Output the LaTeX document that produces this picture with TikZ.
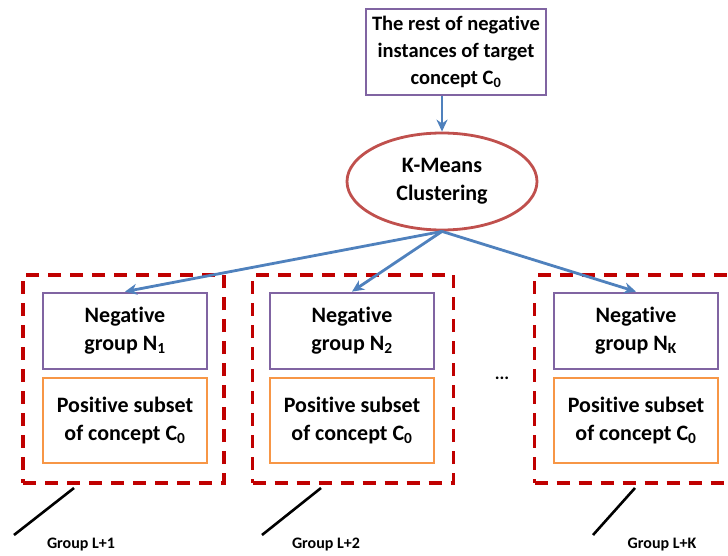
\documentclass[tikz,border=0pt]{standalone}
\usepackage{fontspec}
\setmainfont{Carlito}[Ligatures=NoCommon]
\usetikzlibrary{shapes.geometric,arrows.meta}

\definecolor{boxpurple}{HTML}{8064A2}
\definecolor{boxorange}{HTML}{F79646}
\definecolor{ellred}{HTML}{C0504D}
\definecolor{flowblue}{HTML}{4F81BD}
\definecolor{groupred}{HTML}{C00000}

\tikzset{
  txt/.style={font=\bfseries\fontsize{22}{28}\selectfont, align=center, text=black},
  toptxt/.style={font=\bfseries\fontsize{20.5}{27}\selectfont, align=center, text=black},
  negbox/.style={draw=boxpurple, line width=2.8pt, fill=white, minimum width=164pt, minimum height=76pt, inner sep=0pt},
  posbox/.style={draw=boxorange, line width=2.8pt, fill=white, minimum width=164pt, minimum height=85pt, inner sep=0pt},
  groupbox/.style={draw=groupred, line width=3.2pt, dash pattern=on 13pt off 9pt, minimum width=201pt, minimum height=208pt, inner sep=0pt},
  flow/.style={draw=flowblue, line width=2.8pt, -{Stealth[length=12pt,width=11pt]}},
  pointer/.style={draw=black, line width=2.6pt},
  grouplabel/.style={font=\bfseries\fontsize{16}{18}\selectfont, text=black, anchor=center}
}

\begin{document}
\begin{tikzpicture}[x=1pt, y=-1pt]
  \useasboundingbox (0,0) rectangle (728,556);
  \clip (0,0) rectangle (728,556);
  \fill[white] (0,0) rectangle (728,556);

  % source set and clustering step
  \node[draw=boxpurple, line width=2.8pt, minimum width=180pt, minimum height=86pt, inner sep=0pt, toptxt]
    (top) at (456,52) {The rest of negative\\instances of target\\concept C\textsubscript{0}};
  \node[ellipse, draw=ellred, line width=2.8pt, minimum width=190pt, minimum height=97pt, inner sep=0pt, txt]
    (kmeans) at (442,181.5) {K-Means\\Clustering};

  % dashed group frames
  \node[groupbox] (g1) at (123.5,379) {};
  \node[groupbox] (g2) at (353,379) {};
  \node[groupbox] (gk) at (635,379) {};

  % negative groups and positive subsets
  \node[negbox, txt] (n1) at (125,331) {Negative\\group N\textsubscript{1}};
  \node[posbox, txt] (p1) at (125,420.5) {Positive subset\\of concept C\textsubscript{0}};
  \node[negbox, txt] (n2) at (352,331) {Negative\\group N\textsubscript{2}};
  \node[posbox, txt] (p2) at (352,420.5) {Positive subset\\of concept C\textsubscript{0}};
  \node[negbox, txt] (nk) at (636,331) {Negative\\group N\textsubscript{K}};
  \node[posbox, txt] (pk) at (636,420.5) {Positive subset\\of concept C\textsubscript{0}};

  % ellipsis between the groups
  \node[font=\bfseries\fontsize{18}{20}\selectfont] (dots) at (502,378) {...};

  % flow arrows
  \draw[flow] (kmeans.north |- top.south) -- (kmeans.north);
  \draw[flow] (kmeans.south) -- (n1.north);
  \draw[flow] (kmeans.south) -- (n2.north);
  \draw[flow] (kmeans.south) -- (nk.north);

  % group labels with pointer lines
  \coordinate (a1) at (74,488);  \coordinate (b1) at (14,535);
  \coordinate (a2) at (321,488); \coordinate (b2) at (262,535);
  \coordinate (ak) at (635,488); \coordinate (bk) at (593,535);
  \draw[pointer] (a1) -- (b1);
  \draw[pointer] (a2) -- (b2);
  \draw[pointer] (ak) -- (bk);
  \node[grouplabel] (l1) at (81,545) {Group L+1};
  \node[grouplabel] (l2) at (326,545) {Group L+2};
  \node[grouplabel] (lk) at (662,545) {Group L+K};
\end{tikzpicture}
\end{document}
